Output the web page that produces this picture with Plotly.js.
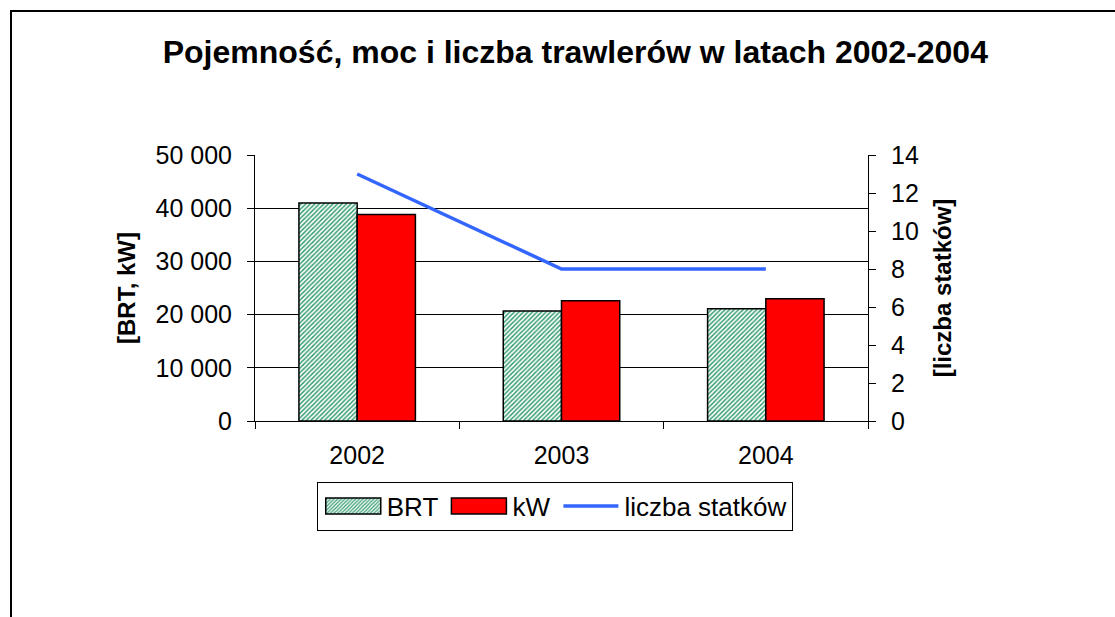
<!DOCTYPE html>
<html>
<head>
<meta charset="utf-8">
<script src="https://cdn.plot.ly/plotly-3.0.1.min.js"></script>
<style>
    html, body { margin: 0; padding: 0; background: #fff; overflow: hidden; }
    #frame {
        position: absolute; left: 10px; top: 10px;
        width: 1200px; height: 700px;
        border-left: 2px solid #000; border-top: 2px solid #000;
    }
    #chart { position: absolute; left: 0; top: 0; width: 1115px; height: 617px; }
</style>
</head>
<body>
<div id="frame"></div>
<div id="chart"></div>
<script>
'use strict';

// data
const years = ['2002', '2003', '2004'];
const brt = [41000, 20700, 21100];
const kw = [38800, 22600, 23000];
const liczbaStatkow = [13, 8, 8];

const font = 'Liberation Sans, Arial, sans-serif';
const legendItemWidth = 59;
const swatchPad = 8;

const traces = [
    {
        name: 'BRT',
        type: 'bar',
        x: years,
        y: brt,
        marker: {
            color: '#ffffff',
            line: { color: '#000', width: 1.5 },
            pattern: {
                shape: '/',
                fgcolor: '#2f9a6e',
                bgcolor: '#ffffff',
                size: 3.2,
                solidity: 0.45,
            },
        },
    },
    {
        name: 'kW',
        type: 'bar',
        x: years,
        y: kw,
        marker: { color: '#ff0000', line: { color: '#000', width: 1.5 } },
    },
    {
        name: 'liczba statków',
        type: 'scatter',
        mode: 'lines',
        x: years,
        y: liczbaStatkow,
        yaxis: 'y2',
        line: { color: '#3366ff', width: 3.5 },
    },
];

const layout = {
    width: 1115,
    height: 617,
    paper_bgcolor: 'rgba(0,0,0,0)',
    plot_bgcolor: 'rgba(0,0,0,0)',
    margin: { l: 255, r: 247, t: 155, b: 196 },
    font: { family: font, size: 25, color: '#000' },
    separators: ', ',
    barmode: 'group',
    bargap: 0.43,
    bargroupgap: 0,
    title: {
        text: '<b>Pojemność, moc i liczba trawlerów w latach 2002-2004</b>',
        font: { family: font, size: 32, color: '#000' },
        x: 0.516,
        xanchor: 'center',
        y: 0.916,
        yanchor: 'middle',
    },
    xaxis: {
        type: 'category',
        showline: true,
        linecolor: '#000',
        linewidth: 1,
        ticks: 'outside',
        tickson: 'boundaries',
        ticklen: 7,
        tickcolor: '#000',
        ticklabelstandoff: 12,
        showgrid: false,
        zeroline: false,
    },
    yaxis: {
        range: [0, 50000],
        dtick: 10000,
        tickformat: ',d',
        showline: true,
        linecolor: '#000',
        linewidth: 1,
        ticks: 'outside',
        ticklen: 7,
        tickcolor: '#000',
        ticklabelstandoff: 10,
        showgrid: true,
        gridcolor: '#000',
        gridwidth: 1,
        zeroline: false,
        title: {
            text: '<b>[BRT, kW]</b>',
            font: { family: font, size: 24 },
            standoff: 13,
        },
    },
    yaxis2: {
        overlaying: 'y',
        side: 'right',
        range: [0, 14],
        dtick: 2,
        showline: true,
        linecolor: '#000',
        linewidth: 1,
        ticks: 'outside',
        ticklen: 7,
        tickcolor: '#000',
        ticklabelstandoff: 10,
        showgrid: false,
        zeroline: false,
        title: {
            text: '<b>[liczba statków]</b>',
            font: { family: font, size: 24 },
            standoff: 16,
        },
    },
    showlegend: true,
    legend: {
        orientation: 'h',
        x: 0.489,
        xanchor: 'center',
        y: -0.228,
        yanchor: 'top',
        bgcolor: '#fff',
        bordercolor: '#000',
        borderwidth: 1,
        itemwidth: legendItemWidth,
        font: { family: font, size: 26 },
        traceorder: 'normal',
    },
};

Plotly.newPlot('chart', traces, layout, { displayModeBar: false, staticPlot: true }).then(gd => {
    // Excel-style wide legend swatches, 55px wide, a little in from the item's left edge
    const cx = legendItemWidth / 2 + 5;
    const x0 = swatchPad - cx;
    gd.querySelectorAll('.legend .legendpoints path').forEach(p => {
        const d = p.getAttribute('d') || '';
        if (d.startsWith('M6,6')) {
            p.setAttribute('d', `M${x0},8H${x0 + 55}V-8H${x0}Z`);
        }
    });
    gd.querySelectorAll('.legend path.js-line').forEach(p => {
        p.setAttribute('d', `M${swatchPad},0h55`);
    });
});
</script>
</body>
</html>
